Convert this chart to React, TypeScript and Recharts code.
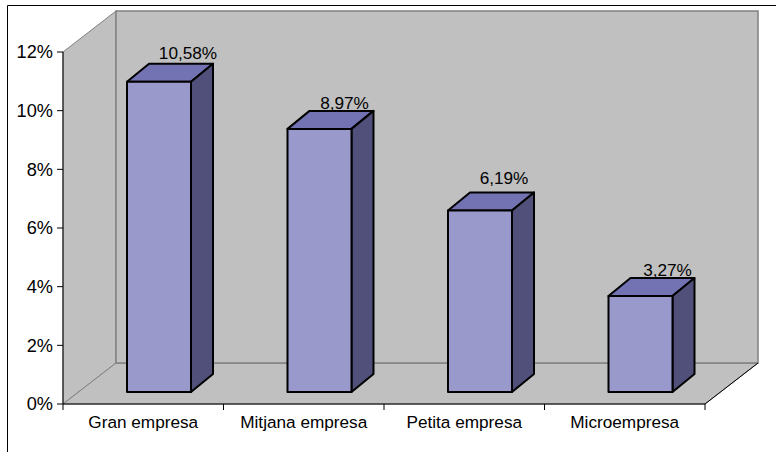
import { BarChart, Bar, XAxis, YAxis, LabelList } from 'recharts';

const categories = ['Gran empresa', 'Mitjana empresa', 'Petita empresa', 'Microempresa'];
const values = [10.58, 8.97, 6.19, 3.27];
const yTicks = [0, 2, 4, 6, 8, 10, 12];

const data = categories.map((name, i) => ({ name, value: values[i] }));

const W = 776;
const H = 452;
const FONT = '"Liberation Sans", Arial, sans-serif';
const FONT_SIZE = 17.2;
const Y_FONT_SIZE = 18.2;

// plot box: front edge of the floor and the axis
const LEFT = 63;
const RIGHT = 705;
const TOP = 52;
const BOTTOM = 404;
const BAND = (RIGHT - LEFT) / categories.length;
// how far the back wall sits behind the front edge
const WALL_DX = 53;
const WALL_DY = 41;
// bars stand part way into the floor
const BAR_SHIFT_X = 16;
const BAR_SHIFT_Y = 12;
const BAR_DEPTH_X = 22;
const BAR_DEPTH_Y = 18;
// hand placed value labels, measured from the back top corner of each box
const LABEL_DX = [7, 3, 2, 5];
const LABEL_LIFT = [5, 2, 8, 2];

const WALL = '#c0c0c0';
const WALL_LINE = '#808080';

function Room() {
  const backL = LEFT + WALL_DX;
  const backR = RIGHT + WALL_DX;
  const backT = TOP - WALL_DY;
  const backB = BOTTOM - WALL_DY;
  return (
    <g>
      <rect x={0} y={0} width={W} height={H} fill="#fff" />
      <line x1={7.5} y1={5.5} x2={W} y2={5.5} stroke="#000" />
      <line x1={7.5} y1={5.5} x2={7.5} y2={H} stroke="#000" />
      {/* side wall */}
      <polygon
        points={`${LEFT},${TOP} ${backL},${backT} ${backL},${backB} ${LEFT},${BOTTOM}`}
        fill={WALL}
        stroke={WALL_LINE}
      />
      {/* floor */}
      <polygon
        points={`${LEFT},${BOTTOM} ${backL},${backB} ${backR},${backB} ${RIGHT},${BOTTOM}`}
        fill={WALL}
        stroke={WALL_LINE}
      />
      {/* back wall */}
      <rect x={backL} y={backT} width={RIGHT - LEFT} height={BOTTOM - TOP} fill={WALL} stroke={WALL_LINE} strokeWidth={1.5} />
      <line x1={RIGHT} y1={BOTTOM} x2={backR} y2={backB} stroke="#000" />
    </g>
  );
}

function Box3D(props: any) {
  const { x, y, width, height } = props;
  const l = x + BAR_SHIFT_X;
  const r = l + width;
  const t = y - BAR_SHIFT_Y;
  const b = t + height;
  const dx = BAR_DEPTH_X;
  const dy = BAR_DEPTH_Y;
  return (
    <g stroke="#000" strokeWidth={2} strokeLinejoin="round">
      <polygon points={`${l},${t} ${l + dx},${t - dy} ${r + dx},${t - dy} ${r},${t}`} fill="#7373b4" />
      <polygon points={`${r},${t} ${r + dx},${t - dy} ${r + dx},${b - dy} ${r},${b}`} fill="#50507a" />
      <rect x={l} y={t} width={width} height={height} fill="#9999cc" />
    </g>
  );
}

function ValueLabel(props: any) {
  const { x, y, width, index } = props;
  const text = values[index].toFixed(2).replace('.', ',') + '%';
  return (
    <text
      x={x + width / 2 + BAR_SHIFT_X + BAR_DEPTH_X + LABEL_DX[index]}
      y={y - BAR_SHIFT_Y - BAR_DEPTH_Y - LABEL_LIFT[index]}
      textAnchor="middle"
      fontFamily={FONT}
      fontSize={FONT_SIZE}
      fill="#000"
    >
      {text}
    </text>
  );
}

// category ticks sit on the band edges, with the name centred between them
function CategoryTick(props: any) {
  const { x, y, payload, index } = props;
  const edge = x - BAND / 2;
  return (
    <g>
      <line x1={edge} y1={BOTTOM} x2={edge} y2={BOTTOM + 6} stroke="#000" />
      {index === categories.length - 1 && (
        <line x1={edge + BAND} y1={BOTTOM} x2={edge + BAND} y2={BOTTOM + 6} stroke="#000" />
      )}
      <text x={x} y={y + 16} textAnchor="middle" fontFamily={FONT} fontSize={FONT_SIZE} fill="#000">
        {payload.value}
      </text>
    </g>
  );
}

export default function App() {
  return (
    <div style={{ position: 'absolute', left: 0, top: 0, width: W, height: H, background: '#fff' }}>
      <BarChart
        width={W}
        height={H}
        data={data}
        margin={{ top: TOP, right: W - RIGHT, bottom: 0, left: 0 }}
      >
        <Room />
        <XAxis
          dataKey="name"
          interval={0}
          stroke="#000"
          tickLine={false}
          height={H - BOTTOM}
          tick={<CategoryTick />}
        />
        <YAxis
          domain={[0, 12]}
          ticks={yTicks}
          width={LEFT}
          stroke="#000"
          tickSize={6}
          tickMargin={4}
          tickFormatter={(v: number) => `${v}%`}
          tick={{ fill: '#000', fontFamily: FONT, fontSize: Y_FONT_SIZE }}
        />
        <Bar dataKey="value" barSize={64} shape={<Box3D />} isAnimationActive={false}>
          <LabelList dataKey="value" content={<ValueLabel />} />
        </Bar>
      </BarChart>
    </div>
  );
}
